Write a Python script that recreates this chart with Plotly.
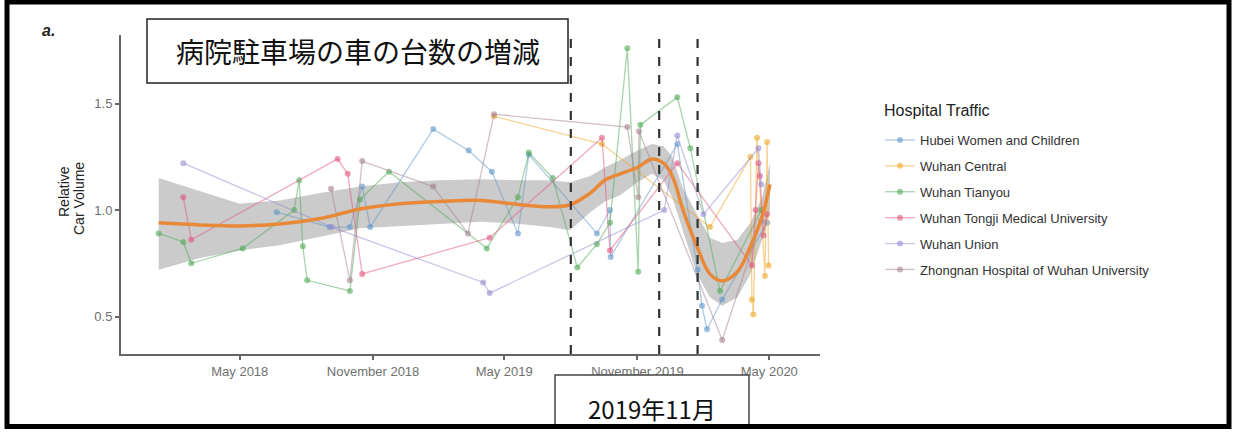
import plotly.graph_objects as go

# ---------------- data ----------------
series_names = ["Hubei Women and Children", "Wuhan Central", "Wuhan Tianyou",
                "Wuhan Tongji Medical University", "Wuhan Union",
                "Zhongnan Hospital of Wuhan University"]

hubei_dates = ["2018-06-21", "2018-09-02", "2018-09-30", "2018-10-17", "2018-10-28",
               "2019-01-23", "2019-03-13", "2019-04-14", "2019-05-20", "2019-06-04",
               "2019-09-06", "2019-09-24", "2019-09-25", "2019-12-26", "2020-01-23",
               "2020-01-29", "2020-02-05", "2020-02-26", "2020-04-28"]
hubei_vals = [0.99, 0.92, 0.92, 1.11, 0.92, 1.38, 1.28, 1.18, 0.89, 1.26,
              0.89, 1.00, 0.78, 1.31, 0.72, 0.55, 0.44, 0.58, 0.94]

central_dates = ["2019-04-17", "2019-09-13", "2020-02-09", "2020-04-05", "2020-04-07",
                 "2020-04-09", "2020-04-14", "2020-04-25", "2020-04-28", "2020-04-30"]
central_vals = [1.44, 1.31, 0.92, 1.25, 0.58, 0.51, 1.34, 0.69, 1.32, 0.74]

tianyou_dates = ["2018-01-09", "2018-02-12", "2018-02-23", "2018-05-05", "2018-07-15",
                 "2018-07-22", "2018-07-27", "2018-08-02", "2018-09-30", "2018-10-14",
                 "2018-11-23", "2019-04-07", "2019-05-20", "2019-06-04", "2019-07-07",
                 "2019-08-10", "2019-09-06", "2019-09-24", "2019-10-18", "2019-11-02",
                 "2019-11-05", "2019-12-26", "2020-01-13", "2020-02-23", "2020-04-20"]
tianyou_vals = [0.89, 0.85, 0.75, 0.82, 1.00, 1.14, 0.83, 0.67, 0.62, 1.05,
                1.18, 0.82, 1.06, 1.27, 1.15, 0.73, 0.84, 0.94, 1.76, 0.71,
                1.40, 1.53, 1.29, 0.62, 1.00]

tongji_dates = ["2018-02-12", "2018-02-23", "2018-09-13", "2018-09-27", "2018-10-17",
                "2019-04-11", "2019-09-13", "2019-09-24", "2019-12-26", "2020-04-07",
                "2020-04-12", "2020-04-16", "2020-04-18", "2020-04-23", "2020-04-28"]
tongji_vals = [1.06, 0.86, 1.24, 1.17, 0.70, 0.87, 1.34, 0.81, 1.22, 0.74,
               1.00, 1.22, 1.16, 0.88, 0.98]

union_dates = ["2018-02-12", "2018-09-05", "2019-04-02", "2019-04-11", "2019-12-08",
               "2019-12-26", "2020-01-31", "2020-04-16", "2020-04-20"]
union_vals = [1.22, 0.92, 0.66, 0.61, 1.00, 1.35, 0.98, 1.29, 1.12]

zhongnan_dates = ["2018-09-04", "2018-09-30", "2018-10-17", "2019-01-23", "2019-03-12",
                  "2019-04-17", "2019-10-18", "2019-11-02", "2019-11-03", "2020-02-26",
                  "2020-04-20"]
zhongnan_vals = [1.10, 0.67, 1.23, 1.11, 0.89, 1.45, 1.39, 1.06, 1.37, 0.39, 0.95]

smooth_dates = ["2018-01-09", "2018-03-07", "2018-05-01", "2018-06-25", "2018-08-20",
                "2018-10-14", "2018-12-08", "2019-02-01", "2019-03-29", "2019-05-23",
                "2019-07-03", "2019-07-31", "2019-08-28", "2019-09-17", "2019-10-08",
                "2019-11-01", "2019-11-21", "2019-12-07", "2019-12-19", "2020-01-03",
                "2020-01-22", "2020-02-09", "2020-02-26", "2020-03-18", "2020-04-05",
                "2020-04-21", "2020-05-02"]
smooth_vals = [0.94, 0.93, 0.925, 0.935, 0.96, 1.005, 1.03, 1.04, 1.045, 1.025,
               1.015, 1.025, 1.08, 1.14, 1.17, 1.20, 1.24, 1.22, 1.16, 1.00,
               0.83, 0.70, 0.667, 0.71, 0.83, 0.97, 1.12]
smooth_upper = [1.15, 1.09, 1.03, 1.045, 1.08, 1.11, 1.13, 1.14, 1.145, 1.14,
                1.14, 1.13, 1.16, 1.20, 1.235, 1.28, 1.31, 1.30, 1.25, 1.10,
                0.98, 0.87, 0.845, 0.86, 0.94, 1.06, 1.22]
smooth_lower = [0.72, 0.775, 0.81, 0.835, 0.875, 0.915, 0.925, 0.935, 0.945, 0.935,
                0.92, 0.905, 0.99, 1.04, 1.07, 1.13, 1.17, 1.14, 1.06, 0.90,
                0.70, 0.59, 0.55, 0.59, 0.70, 0.86, 1.00]

event_dates = ["2019-08-01", "2019-12-01", "2020-01-23"]

x_tick_vals = ["2018-05-01", "2018-11-01", "2019-05-01", "2019-11-01", "2020-05-01"]
x_tick_text = ["May 2018", "November 2018", "May 2019", "November 2019", "May 2020"]
y_tick_vals = [0.5, 1.0, 1.5]
y_tick_text = ["0.5", "1.0", "1.5"]

title_text = "病院駐車場の車の台数の増減"
date_text = "2019年11月"
legend_title = "Hospital Traffic"

# ---------------- layout helpers ----------------
W, H = 1235, 433
ML, MR, MT, MB = 121, 415, 35, 79
PW = W - ML - MR
PH = H - MT - MB


def px_x(px):
    return (px - ML) / PW


def px_y(py):
    return (H - MB - py) / PH


colors = ["rgba(95,150,200,{a})", "rgba(240,165,35,{a})", "rgba(80,170,85,{a})",
          "rgba(225,85,125,{a})", "rgba(150,140,210,{a})", "rgba(165,130,145,{a})"]

all_dates = [hubei_dates, central_dates, tianyou_dates, tongji_dates, union_dates, zhongnan_dates]
all_vals = [hubei_vals, central_vals, tianyou_vals, tongji_vals, union_vals, zhongnan_vals]

fig = go.Figure()

# confidence band
fig.add_trace(go.Scatter(
    x=smooth_dates + smooth_dates[::-1],
    y=smooth_upper + smooth_lower[::-1],
    fill="toself", fillcolor="rgba(190,190,190,0.8)",
    line=dict(width=0), mode="lines", hoverinfo="skip", showlegend=False))

for i, name in enumerate(series_names):
    fig.add_trace(go.Scatter(
        x=all_dates[i], y=all_vals[i], name=name, mode="lines+markers",
        legendgroup=name,
        line=dict(color=colors[i].format(a=0.5), width=1.3),
        marker=dict(color=colors[i].format(a=0.6), size=6)))

fig.add_trace(go.Scatter(
    x=smooth_dates, y=smooth_vals, mode="lines", line=dict(color="#E8893A", width=3.5, shape="spline"),
    hoverinfo="skip", showlegend=False))

shapes = []
for d in event_dates:
    shapes.append(dict(type="line", xref="x", yref="paper", x0=d, x1=d, y0=0, y1=1,
                       line=dict(color="#333333", width=2.2, dash="dash")))

# title box
shapes.append(dict(type="rect", xref="paper", yref="paper", layer="above",
                   x0=px_x(147), x1=px_x(568), y0=px_y(83), y1=px_y(19),
                   fillcolor="white", line=dict(color="#222222", width=1.5)))
# date box
shapes.append(dict(type="rect", xref="paper", yref="paper", layer="above",
                   x0=px_x(555), x1=px_x(749), y0=px_y(428), y1=px_y(375),
                   fillcolor="white", line=dict(color="#444444", width=1.5)))
# outer frame
shapes.append(dict(type="rect", xref="paper", yref="paper", layer="above",
                   x0=px_x(7), x1=px_x(1229), y0=px_y(426.5), y1=px_y(2),
                   fillcolor="rgba(0,0,0,0)", line=dict(color="black", width=5)))

annotations = [
    dict(text=title_text, xref="paper", yref="paper", x=px_x(357.5), y=px_y(51),
         showarrow=False, xanchor="center", yanchor="middle",
         font=dict(family="Noto Sans CJK JP", size=28, color="#111111")),
    dict(text=date_text, xref="paper", yref="paper", x=px_x(652), y=px_y(408),
         showarrow=False, xanchor="center", yanchor="middle",
         font=dict(family="Noto Sans CJK JP", size=24, color="#111111")),
    dict(text="<b><i>a.</i></b>", xref="paper", yref="paper", x=px_x(48), y=px_y(31),
         showarrow=False, xanchor="center", yanchor="middle",
         font=dict(family="Liberation Sans", size=16, color="#222222")),
    dict(text="Relative", xref="paper", yref="paper", x=px_x(64), y=px_y(192),
         showarrow=False, textangle=-90, xanchor="center", yanchor="middle",
         font=dict(family="Liberation Sans", size=14, color="#222222")),
    dict(text="Car Volume", xref="paper", yref="paper", x=px_x(79), y=px_y(199),
         showarrow=False, textangle=-90, xanchor="center", yanchor="middle",
         font=dict(family="Liberation Sans", size=14, color="#222222")),
    dict(text=legend_title, xref="paper", yref="paper", x=px_x(882), y=px_y(110),
         showarrow=False, xanchor="left", yanchor="middle",
         font=dict(family="Liberation Sans", size=16, color="#222222")),
]

axis_common = dict(showgrid=False, zeroline=False, showline=True, linecolor="#666666",
                   linewidth=2, ticks="outside", ticklen=4, tickwidth=1.5, tickcolor="#666666",
                   tickfont=dict(family="Liberation Sans", size=13, color="#707070"))

fig.update_layout(
    width=W, height=H,
    margin=dict(l=ML, r=MR, t=MT, b=MB, autoexpand=False),
    paper_bgcolor="white", plot_bgcolor="white",
    xaxis=dict(type="date", range=["2017-11-18", "2020-07-10"],
               tickmode="array", tickvals=x_tick_vals, ticktext=x_tick_text, **axis_common),
    yaxis=dict(range=[0.324, 1.822], tickmode="array", tickvals=y_tick_vals,
               ticktext=y_tick_text, **axis_common),
    legend=dict(x=px_x(880), y=px_y(125), xanchor="left", yanchor="top",
                font=dict(family="Liberation Sans", size=13, color="#333333"),
                traceorder="grouped", tracegroupgap=6, bgcolor="rgba(0,0,0,0)"),
    shapes=shapes, annotations=annotations,
    font=dict(family="Liberation Sans"),
)

fig.write_html("out.html", config={"displayModeBar": False},
               post_script="document.body.style.margin='0px';document.body.style.overflow='hidden';")
